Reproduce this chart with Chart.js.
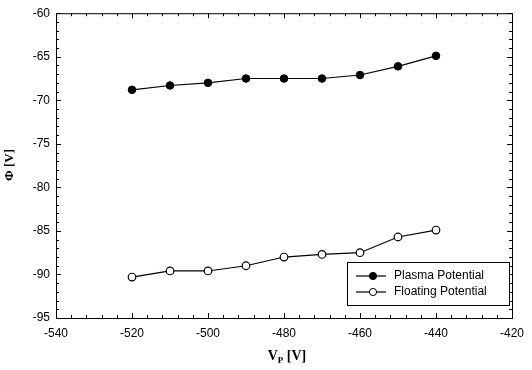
<!DOCTYPE html>
<html>
<head>
<meta charset="utf-8">
<script src="https://cdn.jsdelivr.net/npm/chart.js@4.4.1/dist/chart.umd.min.js"></script>
<style>
  html, body { margin: 0; padding: 0; background: #fff; }
  #wrap { width: 532px; height: 370px; }
</style>
</head>
<body>
<div id="wrap"><canvas id="chart" width="532" height="370"></canvas></div>
<script>
const probeVoltage = [-520, -510, -500, -490, -480, -470, -460, -450, -440];
const plasmaPotential = [-68.8, -68.3, -68.0, -67.5, -67.5, -67.5, -67.1, -66.1, -64.9];
const floatingPotential = [-90.3, -89.6, -89.6, -89.0, -88.0, -87.7, -87.5, -85.7, -84.9];
const seriesLabels = ["Plasma Potential", "Floating Potential"];
const xRange = { min: -540, max: -420, step: 20, minorStep: 4 };
const yRange = { min: -95, max: -60, step: 5, minorStep: 1 };

function toPoints(values) {
  return values.map((y, i) => ({ x: probeVoltage[i], y }));
}

// frame, inward ticks on all four sides, axis titles
const framePlugin = {
  id: "frame",
  afterDraw(chart) {
    const { ctx, chartArea: a, scales } = chart;
    ctx.save();
    ctx.strokeStyle = "#000";
    ctx.lineWidth = 1;
    ctx.strokeRect(a.left + 0.5, a.top + 0.5, a.right - a.left, a.bottom - a.top);

    ctx.beginPath();
    for (let v = xRange.min; v <= xRange.max; v += xRange.minorStep) {
      const px = Math.round(scales.x.getPixelForValue(v)) + 0.5;
      const len = (v - xRange.min) % xRange.step === 0 ? 5 : 3;
      ctx.moveTo(px, a.bottom); ctx.lineTo(px, a.bottom - len);
      ctx.moveTo(px, a.top); ctx.lineTo(px, a.top + len);
    }
    for (let v = yRange.min; v <= yRange.max; v += yRange.minorStep) {
      const py = Math.round(scales.y.getPixelForValue(v)) + 0.5;
      const len = (v - yRange.min) % yRange.step === 0 ? 5 : 3;
      ctx.moveTo(a.left, py); ctx.lineTo(a.left + len, py);
      ctx.moveTo(a.right, py); ctx.lineTo(a.right - len, py);
    }
    ctx.stroke();

    // y title
    ctx.fillStyle = "#000";
    ctx.font = "bold 13px 'Liberation Serif', serif";
    ctx.textAlign = "center";
    ctx.textBaseline = "middle";
    ctx.translate(10, 165);
    ctx.rotate(-Math.PI / 2);
    ctx.fillText("\u03A6 [V]", 0, 0);
    ctx.setTransform(1, 0, 0, 1, 0, 0);

    // x title with subscript
    const big = "bold 14px 'Liberation Serif', serif";
    const small = "bold 9px 'Liberation Serif', serif";
    ctx.textAlign = "left";
    ctx.textBaseline = "alphabetic";
    ctx.font = big; const w1 = ctx.measureText("V").width; const w3 = ctx.measureText(" [V]").width;
    ctx.font = small; const w2 = ctx.measureText("P").width;
    let x = 287 - (w1 + w2 + w3) / 2;
    const base = 360;
    ctx.font = big; ctx.fillText("V", x, base); x += w1;
    ctx.font = small; ctx.fillText("P", x, base + 3); x += w2;
    ctx.font = big; ctx.fillText(" [V]", x, base);
    ctx.restore();
  }
};

// boxed legend inside the plot area
const legendPlugin = {
  id: "boxLegend",
  afterDraw(chart) {
    const { ctx, chartArea: a } = chart;
    const w = 162, h = 43;
    const left = a.right - 3 - w, top = a.bottom - 13 - h;
    ctx.save();
    ctx.fillStyle = "#fff";
    ctx.fillRect(left, top, w, h);
    ctx.strokeStyle = "#000";
    ctx.lineWidth = 1;
    ctx.strokeRect(left + 0.5, top + 0.5, w, h);
    ctx.font = "12px 'Liberation Sans', Arial, sans-serif";
    ctx.textBaseline = "middle";
    chart.data.datasets.forEach((ds, i) => {
      const cy = top + 14 + i * 16;
      ctx.beginPath();
      ctx.moveTo(left + 9, cy); ctx.lineTo(left + 39, cy);
      ctx.strokeStyle = "#000"; ctx.lineWidth = 1.2; ctx.stroke();
      ctx.beginPath();
      ctx.arc(left + 26, cy, 3.6, 0, Math.PI * 2);
      ctx.fillStyle = ds.pointBackgroundColor; ctx.fill();
      ctx.lineWidth = 1; ctx.stroke();
      ctx.fillStyle = "#000";
      ctx.fillText(ds.label, left + 47, cy);
    });
    ctx.restore();
  }
};

new Chart(document.getElementById("chart"), {
  type: "scatter",
  data: {
    datasets: [
      {
        label: seriesLabels[0],
        data: toPoints(plasmaPotential),
        showLine: true,
        borderColor: "#000",
        borderWidth: 1.2,
        pointRadius: 3.8,
        pointBackgroundColor: "#000",
        pointBorderColor: "#000",
        pointBorderWidth: 1
      },
      {
        label: seriesLabels[1],
        data: toPoints(floatingPotential),
        showLine: true,
        borderColor: "#000",
        borderWidth: 1.2,
        pointRadius: 3.8,
        pointBackgroundColor: "#fff",
        pointBorderColor: "#000",
        pointBorderWidth: 1.2
      }
    ]
  },
  options: {
    responsive: false,
    animation: false,
    layout: { padding: { top: 13, right: 14, left: 0, bottom: 0 } },
    plugins: { legend: { display: false }, tooltip: { enabled: false } },
    scales: {
      x: {
        type: "linear",
        min: xRange.min,
        max: xRange.max,
        grid: { display: false, drawTicks: false },
        border: { display: false },
        ticks: { stepSize: xRange.step, padding: 8, color: "#000", font: { family: "'Liberation Sans', Arial, sans-serif", size: 12 } },
        afterFit(scale) { scale.height = 52; }
      },
      y: {
        type: "linear",
        min: yRange.min,
        max: yRange.max,
        grid: { display: false, drawTicks: false },
        border: { display: false },
        ticks: { stepSize: yRange.step, padding: 6, color: "#000", font: { family: "'Liberation Sans', Arial, sans-serif", size: 12 } },
        afterFit(scale) { scale.width = 56; }
      }
    }
  },
  plugins: [framePlugin, legendPlugin]
});
</script>
</body>
</html>
